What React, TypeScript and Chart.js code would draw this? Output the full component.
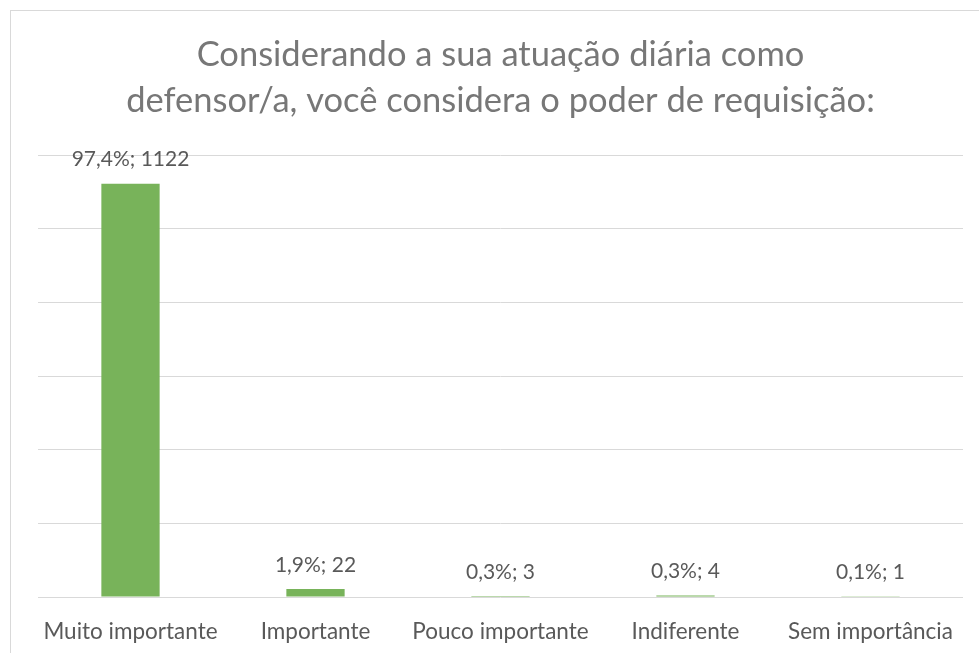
import React, { useEffect, useRef } from "react";
import { Chart, registerables } from "chart.js";

Chart.register(...registerables);

const titleLines = [
  "Considerando a sua atuação diária como",
  "defensor/a, você considera o poder de requisição:",
];
const categories = [
  "Muito importante",
  "Importante",
  "Pouco importante",
  "Indiferente",
  "Sem importância",
];
const counts = [1122, 22, 3, 4, 1];
const percents = ["97,4%", "1,9%", "0,3%", "0,3%", "0,1%"];
const yMax = 1200;
const yStep = 200;

const FONT = "Lato, 'Open Sans', sans-serif";

const dataLabelPlugin = {
  id: "dataLabels",
  afterDatasetsDraw(chart: any) {
    const ctx = chart.ctx;
    const meta = chart.getDatasetMeta(0);
    ctx.save();
    ctx.font = `21px ${FONT}`;
    ctx.fillStyle = "#595959";
    ctx.textAlign = "center";
    ctx.textBaseline = "middle";
    meta.data.forEach((el: any, i: number) => {
      ctx.fillText(`${percents[i]}; ${counts[i]}`, el.x, el.y - 24);
    });
    ctx.restore();
  },
};

export default function App() {
  const ref = useRef<HTMLCanvasElement | null>(null);
  useEffect(() => {
    if (!ref.current) return;
    const chart = new Chart(ref.current, {
      type: "bar",
      data: {
        labels: categories,
        datasets: [
          {
            data: counts,
            backgroundColor: "#78B35A",
            categoryPercentage: 1,
            barPercentage: 0.315,
          },
        ],
      },
      options: {
        animation: false,
        responsive: true,
        maintainAspectRatio: false,
        layout: { padding: { left: 27, right: 16, top: 0, bottom: 0 } },
        plugins: {
          legend: { display: false },
          tooltip: { enabled: false },
          title: {
            display: true,
            text: titleLines,
            color: "#777777",
            font: { family: FONT, size: 34.5, weight: "normal", lineHeight: "46px" },
            padding: { top: 21, bottom: 31 },
          },
        },
        scales: {
          x: {
            grid: { display: false, drawTicks: false },
            border: { display: false },
            ticks: {
              color: "#595959",
              font: { family: FONT, size: 22.5 },
              padding: 21,
              maxRotation: 0,
              autoSkip: false,
            },
            afterFit(scale: any) {
              scale.height = 56;
            },
          },
          y: {
            min: 0,
            max: yMax,
            ticks: { display: false, stepSize: yStep },
            grid: { color: "#d9d9d9", lineWidth: 1, drawTicks: false },
            border: { display: false },
          },
        },
      },
      plugins: [dataLabelPlugin],
    });
    return () => chart.destroy();
  }, []);

  return (
    <div
      style={{
        position: "absolute",
        left: 10,
        top: 10,
        width: 969,
        height: 643,
        borderTop: "1px solid #d9d9d9",
        borderLeft: "1px solid #d9d9d9",
        boxSizing: "border-box",
        background: "#fff",
      }}
    >
      <div style={{ position: "relative", width: 968, height: 642 }}>
        <canvas ref={ref} />
      </div>
    </div>
  );
}
